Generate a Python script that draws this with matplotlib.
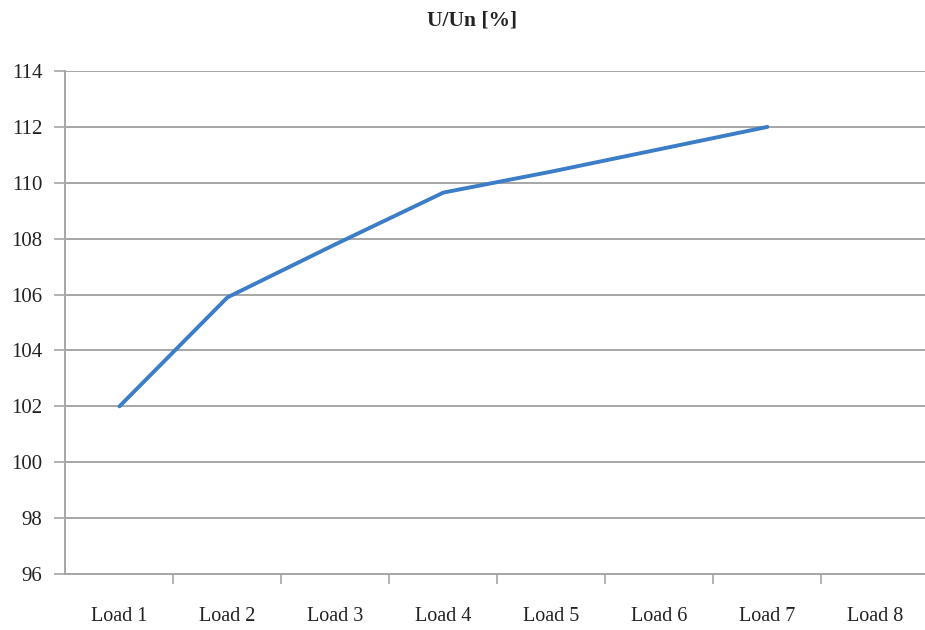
import matplotlib
matplotlib.use("Agg")
import matplotlib.pyplot as plt
import numpy as np

categories = ["Load 1", "Load 2", "Load 3", "Load 4", "Load 5", "Load 6", "Load 7", "Load 8"]
values = [102.0, 105.9, 107.8, 109.65, 110.4, 111.2, 112.0, np.nan]
y_ticks = [96, 98, 100, 102, 104, 106, 108, 110, 112, 114]
title = "U/Un [%]"

plt.rcParams['font.family'] = ['Liberation Serif', 'DejaVu Serif']

grid_color = "#a6a6a6"
line_color = "#3b7dc6"

fig = plt.figure(figsize=(9.25, 6.3), dpi=100)
ax = fig.add_axes([0.0708, 0.0889, 0.934, 0.7984])

x = np.arange(len(categories))
ax.plot(x, values, color=line_color, linewidth=2.8, solid_capstyle="round", zorder=3)

ax.set_xlim(-0.5, len(categories) - 0.5)
ax.set_ylim(y_ticks[0], y_ticks[-1])
ax.set_yticks(y_ticks)
ax.set_yticklabels([str(v) for v in y_ticks], fontsize=15, color="#222222")
ax.set_xticks(x)
ax.set_xticklabels(categories, fontsize=14.5, color="#222222")
ax.set_xticks(np.arange(0.5, len(categories) - 1, 1.0), minor=True)

ax.tick_params(axis="x", which="major", length=0, pad=24)
ax.tick_params(axis="x", which="minor", length=7, width=1.2, color=grid_color, direction="out")
ax.tick_params(axis="y", which="major", length=8, width=1.2, color=grid_color, direction="out", pad=8.5)

ax.grid(axis="y", color=grid_color, linewidth=1.4, zorder=1)
ax.set_axisbelow(True)
for side in ["top", "right"]:
    ax.spines[side].set_visible(False)
for side in ["left", "bottom"]:
    ax.spines[side].set_color(grid_color)
    ax.spines[side].set_linewidth(1.4)

fig.text(0.51, 0.967, title, ha="center", va="center", fontsize=15.5, fontweight="bold", color="#222222")

fig.savefig("out.png", dpi=100, facecolor="white")
